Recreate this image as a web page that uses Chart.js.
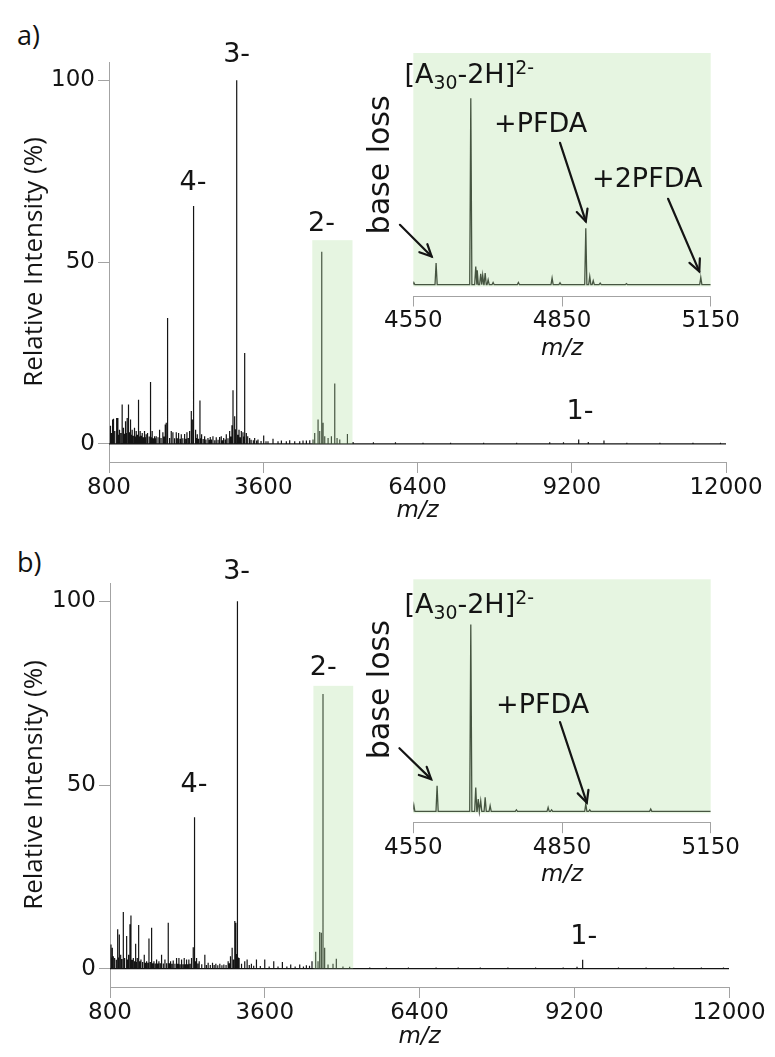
<!DOCTYPE html>
<html lang="en">
<head>
<meta charset="UTF-8">
<title>Mass spectra of A30 with PFDA</title>
<script src="https://cdn.jsdelivr.net/npm/chart.js@4/dist/chart.umd.min.js"></script>
<style>
  body { margin: 0; background: #fff; width: 775px; height: 1057px; position: relative; overflow: hidden; }
  canvas { position: absolute; }
  .panel { position: absolute; left: 17px; font: 27px 'Open Sans', sans-serif; line-height: 32px; color: #111; }
</style>
</head>
<body>
<div class="panel" style="top:19px">a)</div>
<div class="panel" style="top:546px">b)</div>
<canvas id="mainA" width="775" height="525" style="left:0;top:0"></canvas>
<canvas id="insetA" width="425" height="333" style="left:350px;top:30px"></canvas>
<canvas id="mainB" width="775" height="532" style="left:0;top:525px"></canvas>
<canvas id="insetB" width="425" height="333" style="left:350px;top:556px"></canvas>
<script>
// ---- data ----
const mzRange = [800, 12000];
const mainXTicks = [800, 3600, 6400, 9200, 12000];
const mainYTicks = [0, 50, 100];
const insetRange = [4550, 5150];
const insetXTicks = [4550, 4850, 5150];

// [m/z, relative intensity %]
const peaksA = [
  [827, 5.0], [845, 3.0], [858, 6.7], [870, 4.5], [882, 6.9], [905, 3.5], [930, 7.1], [945, 4.0],
  [961, 7.1], [975, 2.5], [991, 3.9], [1015, 3.0], [1039, 10.8], [1063, 4.4], [1080, 2.8], [1100, 6.2],
  [1115, 3.0], [1130, 7.1], [1145, 2.5], [1160, 10.8], [1175, 3.2], [1191, 6.7], [1205, 2.5], [1221, 3.9],
  [1240, 2.2], [1263, 4.4], [1280, 2.0], [1294, 3.5], [1315, 2.5], [1336, 12.1], [1350, 2.0], [1366, 3.5],
  [1385, 2.2], [1403, 3.0], [1425, 1.8], [1445, 3.5], [1460, 1.8], [1475, 2.6], [1490, 1.6], [1506, 3.0],
  [1530, 2.0], [1554, 17.0], [1570, 1.8], [1584, 3.5], [1605, 1.5], [1627, 2.1], [1640, 1.5], [1657, 2.1],
  [1690, 1.8], [1718, 3.9], [1745, 1.6], [1778, 3.2], [1800, 2.0], [1821, 5.3], [1839, 5.8], [1855, 2.2],
  [1869, 34.6], [1900, 1.6], [1930, 3.5], [1960, 3.2], [1990, 1.5], [2021, 3.2], [2040, 1.5], [2063, 3.0],
  [2090, 1.4], [2112, 2.6], [2140, 1.5], [2172, 2.7], [2195, 1.4], [2215, 3.2], [2240, 1.6], [2263, 3.5],
  [2294, 9.0], [2312, 6.7], [2325, 3.0], [2342, 65.4], [2372, 3.9], [2390, 1.6], [2403, 2.6], [2425, 1.4],
  [2451, 11.9], [2470, 1.5], [2481, 2.6], [2510, 1.3], [2536, 2.1], [2560, 1.2], [2596, 1.6], [2620, 1.1],
  [2638, 1.9], [2660, 1.2], [2687, 2.1], [2720, 1.0], [2747, 1.8], [2780, 1.1], [2808, 1.9], [2838, 2.1],
  [2860, 1.0], [2881, 1.6], [2910, 1.2], [2929, 2.6], [2960, 1.5], [2990, 3.5], [3010, 2.0], [3032, 5.1],
  [3051, 14.7], [3081, 7.6], [3095, 4.0], [3111, 100], [3123, 13.7], [3140, 2.5], [3160, 3.9], [3180, 1.8],
  [3202, 3.5], [3232, 3.2], [3250, 2.0], [3263, 25.0], [3293, 3.0], [3310, 1.4], [3323, 2.1], [3353, 1.6],
  [3380, 1.1], [3420, 1.0], [3444, 1.6], [3480, 0.9], [3505, 1.2], [3560, 0.8], [3608, 2.3], [3650, 0.7],
  [3686, 0.7], [3777, 1.4], [3868, 0.7], [3929, 0.9], [4019, 0.7], [4080, 1.0], [4171, 0.7], [4262, 0.7],
  [4322, 0.9], [4383, 0.9], [4444, 1.0], [4504, 1.2], [4534, 3.0], [4595, 6.7], [4625, 3.5], [4662, 52.8],
  [4686, 5.8], [4716, 2.1], [4777, 1.6], [4837, 2.1], [4898, 16.6], [4940, 1.6], [4989, 1.2], [5128, 2.7],
  [5231, 0.5], [5600, 0.4], [6000, 0.4], [6500, 0.3], [7000, 0.3], [7600, 0.3], [8200, 0.3], [8800, 0.4],
  [9050, 0.4], [9326, 1.2], [9500, 0.5], [9785, 0.9], [10200, 0.3], [10800, 0.3], [11400, 0.3], [11900, 0.3]
];

const peaksB = [
  [818, 6.6], [830, 3.0], [842, 5.7], [860, 3.4], [875, 2.5], [890, 2.9], [915, 2.4], [939, 10.7],
  [955, 3.0], [969, 9.3], [993, 3.8], [1015, 2.6], [1041, 15.4], [1055, 2.8], [1071, 2.9], [1101, 8.9],
  [1120, 2.5], [1137, 3.8], [1161, 12.1], [1179, 14.5], [1200, 2.4], [1222, 2.9], [1245, 2.0], [1264, 6.8],
  [1280, 1.8], [1294, 2.9], [1310, 1.8], [1324, 11.9], [1340, 2.0], [1360, 2.5], [1390, 1.8], [1420, 3.8],
  [1440, 1.6], [1462, 2.0], [1485, 1.6], [1505, 8.2], [1530, 1.8], [1553, 11.1], [1575, 1.5], [1595, 2.0],
  [1620, 1.4], [1643, 2.5], [1665, 1.4], [1685, 2.0], [1710, 1.5], [1733, 3.8], [1765, 1.4], [1794, 2.5],
  [1825, 1.5], [1854, 12.5], [1875, 1.5], [1896, 2.0], [1920, 1.3], [1944, 2.2], [1975, 1.3], [2004, 2.9],
  [2025, 1.3], [2047, 2.9], [2070, 1.2], [2095, 2.5], [2120, 1.2], [2143, 2.9], [2165, 1.2], [2185, 2.5],
  [2205, 1.2], [2227, 2.5], [2250, 1.3], [2275, 2.9], [2306, 5.8], [2320, 2.5], [2336, 41.2], [2350, 2.0],
  [2366, 2.9], [2390, 1.4], [2414, 2.0], [2460, 1.2], [2516, 3.8], [2545, 1.0], [2576, 1.6], [2615, 1.0],
  [2655, 1.6], [2685, 1.0], [2715, 1.3], [2750, 0.9], [2787, 1.3], [2825, 0.9], [2860, 1.1], [2900, 1.0],
  [2938, 2.0], [2960, 1.5], [2980, 3.4], [3010, 5.7], [3035, 2.5], [3058, 13.0], [3076, 12.5], [3090, 4.0],
  [3106, 100], [3120, 3.0], [3136, 2.9], [3180, 1.3], [3238, 2.0], [3281, 2.5], [3320, 1.0], [3359, 1.3],
  [3400, 0.8], [3450, 2.5], [3520, 0.7], [3600, 2.5], [3680, 0.6], [3763, 2.0], [3840, 0.6], [3919, 1.8],
  [4000, 0.6], [4070, 1.1], [4150, 0.6], [4233, 1.1], [4300, 0.6], [4353, 0.9], [4410, 0.8], [4455, 2.0],
  [4522, 4.6], [4564, 2.0], [4594, 10.0], [4624, 9.8], [4654, 74.8], [4684, 5.7], [4745, 1.1], [4835, 1.3],
  [4895, 2.7], [5015, 0.6], [5136, 0.5], [5500, 0.3], [5800, 0.3], [6200, 0.3], [6700, 0.3], [7100, 0.3],
  [7500, 0.3], [8000, 0.3], [8500, 0.3], [9000, 0.3], [9250, 0.5], [9352, 2.4], [10000, 0.3], [10500, 0.3],
  [11000, 0.3], [11500, 0.3], [11900, 0.3]
];

// inset traces, intensity relative to [A30-2H]2- = 100
const insetFloor = 1;
const insetPeaksA = [
  [4551, 2.2], [4596, 12.5], [4666, 100], [4676, 10.7], [4679, 8.6], [4686, 6.8], [4690, 6.0], [4695, 7.2],
  [4701, 3.6], [4711, 2.2], [4762, 2.2], [4830, 4.5], [4846, 2.0], [4898, 31], [4906, 5.4], [4913, 3.1],
  [4927, 1.8], [4980, 1.6], [5130, 4.9]
];
const insetPeaksB = [
  [4551, 4.4], [4598, 14.6], [4666, 100], [4676, 13.7], [4681, 7.5], [4686, 6.6], [4695, 8.4], [4705, 4.0],
  [4758, 1.8], [4822, 3.1], [4829, 1.8], [4898, 4.9], [4906, 1.8], [5029, 2.2]
];

// ---- styling ----
const AXIS_GREY = '#a3a3a3';
const INK = '#141414';
const SHADE = 'rgba(178,225,162,0.32)';
const tickFont = { family: 'DejaVu Sans', size: 23 };
const noteFont = 'DejaVu Sans';

// stick spectrum: each peak becomes a vertical line on a zero baseline
function sticks(peaks, range) {
  const pts = [{ x: range[0], y: 0 }];
  peaks.slice().sort((a, b) => a[0] - b[0]).forEach(([mz, h]) => {
    pts.push({ x: mz, y: 0 }, { x: mz, y: h }, { x: mz, y: 0 });
  });
  pts.push({ x: range[1], y: 0 });
  return pts;
}

// profile trace for the zoomed insets
function profile(peaks, range, floor, hw) {
  const pts = [{ x: range[0], y: floor }];
  peaks.slice().sort((a, b) => a[0] - b[0]).forEach(([mz, h]) => {
    pts.push({ x: mz - hw, y: floor }, { x: mz, y: h }, { x: mz + hw, y: floor });
  });
  pts.push({ x: range[1], y: floor });
  return pts;
}

// translucent green box, in data units
const shade = {
  id: 'shade',
  afterDatasetsDraw(chart, args, o) {
    if (!o.box) return;
    const { ctx, scales: { x, y } } = chart;
    const [x0, x1, y0, y1] = o.box;
    const l = x.getPixelForValue(x0), r = x.getPixelForValue(x1);
    const t = y.getPixelForValue(y1), b = y.getPixelForValue(y0);
    ctx.save();
    ctx.fillStyle = SHADE;
    ctx.fillRect(l, t, r - l, b - t);
    ctx.restore();
  }
};

function drawRich(ctx, parts, size, align) {
  let w = 0;
  parts.forEach(p => {
    ctx.font = (size * (p.scale || 1)) + 'px "' + noteFont + '"';
    w += ctx.measureText(p.t).width;
  });
  let cx = align === 'left' ? 0 : -w / 2;
  parts.forEach(p => {
    ctx.font = (size * (p.scale || 1)) + 'px "' + noteFont + '"';
    ctx.fillText(p.t, cx, p.dy || 0);
    cx += ctx.measureText(p.t).width;
  });
}

// text labels and arrows placed in data coordinates
const annotate = {
  id: 'annotate',
  afterDraw(chart, args, o) {
    const { ctx, scales: { x, y } } = chart;
    ctx.save();
    ctx.fillStyle = INK;
    ctx.strokeStyle = INK;
    ctx.textBaseline = 'middle';
    ctx.textAlign = 'left';
    (o.labels || []).forEach(l => {
      ctx.save();
      ctx.translate(x.getPixelForValue(l.x), y.getPixelForValue(l.y));
      if (l.rotate) ctx.rotate(l.rotate * Math.PI / 180);
      drawRich(ctx, l.parts || [{ t: l.text }], l.size || 27, l.align || 'center');
      ctx.restore();
    });
    ctx.lineWidth = 2.2;
    ctx.lineCap = 'round';
    (o.arrows || []).forEach(a => {
      const x1 = x.getPixelForValue(a[0]), y1 = y.getPixelForValue(a[1]);
      const x2 = x.getPixelForValue(a[2]), y2 = y.getPixelForValue(a[3]);
      const ang = Math.atan2(y2 - y1, x2 - x1), hl = 13;
      ctx.beginPath();
      ctx.moveTo(x1, y1);
      ctx.lineTo(x2, y2);
      ctx.stroke();
      ctx.beginPath();
      ctx.moveTo(x2 - hl * Math.cos(ang - 0.45), y2 - hl * Math.sin(ang - 0.45));
      ctx.lineTo(x2, y2);
      ctx.lineTo(x2 - hl * Math.cos(ang + 0.45), y2 - hl * Math.sin(ang + 0.45));
      ctx.stroke();
    });
    ctx.restore();
  }
};

function axisLook(tickLen) {
  return {
    grid: { drawOnChartArea: false, drawTicks: true, tickLength: tickLen, color: AXIS_GREY, lineWidth: 1 },
    border: { display: true, color: AXIS_GREY, width: 1 }
  };
}

const titleFont = { family: 'DejaVu Sans', size: 23, style: 'italic' };

function mainChart(id, peaks, cfg) {
  return new Chart(document.getElementById(id), {
    type: 'line',
    data: {
      datasets: [{
        data: sticks(peaks, mzRange),
        borderColor: INK, borderWidth: 1.2, pointRadius: 0, tension: 0, fill: false
      }]
    },
    options: {
      responsive: false, animation: false, events: [], devicePixelRatio: 1,
      layout: { padding: { top: cfg.padTop, right: cfg.padRight, left: 0, bottom: 0 } },
      scales: {
        x: {
          type: 'linear', min: mzRange[0], max: mzRange[1],
          afterBuildTicks: s => { s.ticks = mainXTicks.map(v => ({ value: v })); },
          afterFit: s => { s.height = cfg.xHeight; },
          ticks: { font: tickFont, color: INK, padding: 1, maxRotation: 0, autoSkip: false, callback: v => String(v) },
          title: { display: true, text: 'm/z', font: titleFont, color: INK, padding: { top: 0, bottom: cfg.mzPad } },
          ...axisLook(11)
        },
        y: {
          min: -5, max: 105,
          afterBuildTicks: s => { s.ticks = mainYTicks.map(v => ({ value: v })); },
          afterFit: s => { s.width = cfg.yWidth; },
          ticks: { font: tickFont, color: INK, padding: 3, callback: v => String(v) },
          title: { display: true, text: 'Relative Intensity (%)', font: { family: 'Open Sans', size: 26 }, color: INK, padding: { top: 19, bottom: 0 } },
          ...axisLook(11)
        }
      },
      plugins: {
        legend: { display: false }, tooltip: { enabled: false },
        shade: { box: cfg.shadeBox },
        annotate: { labels: cfg.labels }
      }
    },
    plugins: [shade, annotate]
  });
}

function insetChart(id, peaks, cfg) {
  return new Chart(document.getElementById(id), {
    type: 'line',
    data: {
      datasets: [{
        data: profile(peaks, insetRange, insetFloor, 2.2),
        borderColor: INK, borderWidth: 1.3, pointRadius: 0, tension: 0, fill: false
      }]
    },
    options: {
      responsive: false, animation: false, events: [], devicePixelRatio: 1,
      layout: { padding: { top: cfg.padTop, right: 64.3, left: 63.3, bottom: 0 } },
      scales: {
        x: {
          type: 'linear', min: insetRange[0], max: insetRange[1],
          afterBuildTicks: s => { s.ticks = insetXTicks.map(v => ({ value: v })); },
          afterFit: s => { s.height = cfg.xHeight; },
          ticks: { font: tickFont, color: INK, padding: 1, maxRotation: 0, autoSkip: false, callback: v => String(v) },
          title: { display: true, text: 'm/z', font: titleFont, color: INK, padding: { top: 0, bottom: 0 } },
          ...axisLook(10.5)
        },
        y: { display: false, min: -5, max: 124 }
      },
      plugins: {
        legend: { display: false }, tooltip: { enabled: false },
        shade: { box: [insetRange[0], insetRange[1], 0, 124] },
        annotate: { labels: cfg.labels, arrows: cfg.arrows }
      }
    },
    plugins: [shade, annotate]
  });
}

const ionLabel = [
  { t: '[A' }, { t: '30', scale: 0.7, dy: 8 }, { t: '-2H]' }, { t: '2-', scale: 0.7, dy: -7 }
];

mainChart('mainA', peaksA, {
  padTop: 62, padRight: 49, yWidth: 109, xHeight: 63, mzPad: 0,
  shadeBox: [4490, 5220, 0, 56],
  labels: [
    { text: '3-', x: 3117, y: 106.9 },
    { text: '4-', x: 2326, y: 71.8 },
    { text: '2-', x: 4656, y: 60.5 },
    { text: '1-', x: 9349, y: 8.8 }
  ]
});

insetChart('insetA', insetPeaksA, {
  padTop: 23, xHeight: 67,
  labels: [
    { parts: ionLabel, x: 4532, y: 112, align: 'left' },
    { text: 'base loss', x: 4486, y: 64.6, rotate: -90, size: 30 },
    { text: '+PFDA', x: 4807, y: 85.7 },
    { text: '+2PFDA', x: 5022, y: 56.6 }
  ],
  arrows: [
    [4523, 32.8, 4587, 16.0],
    [4846, 76.3, 4898, 34.6],
    [5064, 46.6, 5127, 8.1]
  ]
});

mainChart('mainB', peaksB, {
  padTop: 58, padRight: 46, yWidth: 110, xHeight: 70, mzPad: 6,
  shadeBox: [4480, 5200, 0, 77],
  labels: [
    { text: '3-', x: 3091, y: 108 },
    { text: '4-', x: 2319, y: 50 },
    { text: '2-', x: 4658, y: 81.8 },
    { text: '1-', x: 9372, y: 8.6 }
  ]
});

insetChart('insetB', insetPeaksB, {
  padTop: 23.3, xHeight: 66.3,
  labels: [
    { parts: ionLabel, x: 4532, y: 109.8, align: 'left' },
    { text: 'base loss', x: 4486, y: 65.5, rotate: -90, size: 30 },
    { text: '+PFDA', x: 4811, y: 57.1 }
  ],
  arrows: [
    [4522, 34.5, 4586, 18.1],
    [4846, 48.3, 4900, 5.6]
  ]
});
</script>
</body>
</html>
